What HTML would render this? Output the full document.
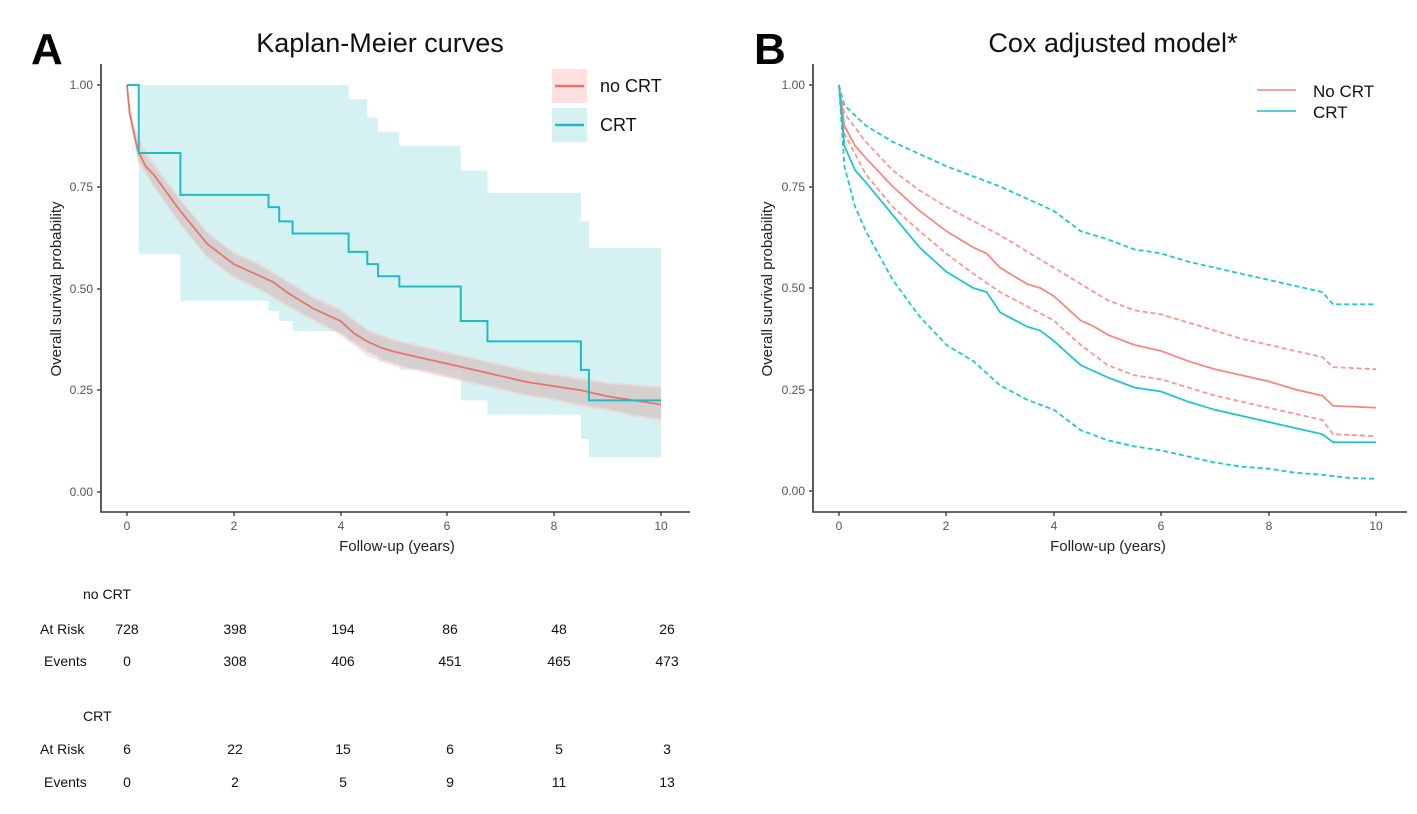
<!DOCTYPE html>
<html><head><meta charset="utf-8"><style>
body{margin:0;background:#fff;}
svg{display:block;font-family:"Liberation Sans",Arial,sans-serif;}
.tk{fill:#555;font-size:12px;}
.ax{stroke:#333;stroke-width:1.6;fill:none;}
.ln{fill:none;vector-effect:non-scaling-stroke;stroke-linejoin:miter;}
</style></head><body>
<svg width="1417" height="814" viewBox="0 0 1417 814">
<!-- Panel A -->
<text x="31" y="64" font-size="44" font-weight="bold" fill="#000">A</text>
<text x="380" y="52" font-size="27" text-anchor="middle" fill="#111" font-family="'Liberation Sans',sans-serif">Kaplan-Meier curves</text>
<g transform="translate(127,492) scale(53.4,-407)">
  <!-- CRT CI band -->
  <polygon fill="#d6f1f2" stroke="none" points="0.22,1 4.15,1 4.15,0.965 4.5,0.965 4.5,0.92 4.7,0.92 4.7,0.885 5.1,0.885 5.1,0.85 6.25,0.85 6.25,0.79 6.75,0.79 6.75,0.735 8.5,0.735 8.5,0.665 8.65,0.665 8.65,0.6 10,0.6 10,0.085 8.65,0.085 8.65,0.13 8.5,0.13 8.5,0.19 6.75,0.19 6.75,0.225 6.25,0.225 6.25,0.3 5.1,0.3 5.1,0.32 4.7,0.32 4.7,0.345 4.5,0.345 4.5,0.37 4.15,0.37 4.15,0.395 3.1,0.395 3.1,0.42 2.85,0.42 2.85,0.445 2.65,0.445 2.65,0.47 1,0.47 1,0.585 0.22,0.585"/>
  <!-- no CRT band -->
  <polygon fill="#f5c9c6" fill-opacity="0.55" stroke="none" points="0,1 0.1,0.92 0.2,0.87 0.5,0.81 1,0.72 1.5,0.64 2,0.59 2.5,0.56 3,0.52 3.5,0.48 4,0.45 4.5,0.40 5,0.375 5.5,0.36 6,0.345 6.5,0.33 7,0.315 7.5,0.30 8,0.29 8.5,0.28 9,0.27 9.5,0.265 10,0.26 10,0.175 9.5,0.185 9,0.20 8.5,0.21 8,0.225 7.5,0.235 7,0.25 6.5,0.265 6,0.28 5.5,0.295 5,0.31 4.5,0.335 4,0.385 3.5,0.42 3,0.455 2.5,0.495 2,0.525 1.5,0.575 1,0.655 0.5,0.75 0.2,0.81 0.1,0.88 0,1"/>
  <polygon fill="#c8c8c8" fill-opacity="0.6" stroke="none" points="0.2,0.85 0.5,0.80 1,0.715 1.5,0.635 2,0.585 2.5,0.555 3,0.515 3.5,0.475 4,0.445 4.5,0.395 5,0.37 5.5,0.355 6,0.34 6.5,0.325 7,0.31 7.5,0.295 8,0.285 8.5,0.275 9,0.265 9.5,0.26 10,0.255 10,0.18 9.5,0.19 9,0.205 8.5,0.215 8,0.23 7.5,0.24 7,0.255 6.5,0.27 6,0.285 5.5,0.3 5,0.315 4.5,0.345 4,0.39 3.5,0.425 3,0.46 2.5,0.50 2,0.53 1.5,0.58 1,0.66 0.5,0.755 0.2,0.82"/>
  <polyline class="ln" stroke="#e8746c" stroke-width="1.8" points="0,1 0.05,0.93 0.1,0.9 0.2,0.84 0.35,0.80 0.5,0.78 0.75,0.735 1,0.69 1.25,0.65 1.5,0.61 1.75,0.585 2,0.56 2.25,0.545 2.5,0.53 2.75,0.515 3,0.49 3.25,0.47 3.5,0.45 3.75,0.435 4,0.42 4.25,0.39 4.5,0.37 4.75,0.355 5,0.345 5.5,0.33 6,0.315 6.5,0.30 7,0.285 7.5,0.27 8,0.26 8.5,0.25 9,0.235 9.5,0.225 10,0.215"/>
  <polyline class="ln" stroke="#1fbcc4" stroke-width="2" points="0,1 0.22,1 0.22,0.833 1,0.833 1,0.73 2.65,0.73 2.65,0.70 2.85,0.70 2.85,0.665 3.1,0.665 3.1,0.635 4.15,0.635 4.15,0.59 4.5,0.59 4.5,0.56 4.7,0.56 4.7,0.53 5.1,0.53 5.1,0.505 6.25,0.505 6.25,0.42 6.75,0.42 6.75,0.37 8.5,0.37 8.5,0.30 8.65,0.30 8.65,0.225 10,0.225"/>
</g>
<path class="ax" d="M101,64 V512 H690"/>
<g stroke="#333" stroke-width="1.3">
<line x1="97" y1="85" x2="101" y2="85"/><line x1="97" y1="187" x2="101" y2="187"/><line x1="97" y1="289" x2="101" y2="289"/><line x1="97" y1="390" x2="101" y2="390"/><line x1="97" y1="492" x2="101" y2="492"/>
<line x1="127" y1="512" x2="127" y2="516"/><line x1="234" y1="512" x2="234" y2="516"/><line x1="341" y1="512" x2="341" y2="516"/><line x1="447" y1="512" x2="447" y2="516"/><line x1="554" y1="512" x2="554" y2="516"/><line x1="661" y1="512" x2="661" y2="516"/>
</g>
<g class="tk" text-anchor="end"><text x="93" y="89">1.00</text><text x="93" y="191">0.75</text><text x="93" y="293">0.50</text><text x="93" y="394">0.25</text><text x="93" y="496">0.00</text></g>
<g class="tk" text-anchor="middle"><text x="127" y="530">0</text><text x="234" y="530">2</text><text x="341" y="530">4</text><text x="447" y="530">6</text><text x="554" y="530">8</text><text x="661" y="530">10</text></g>
<text x="397" y="551" font-size="15" text-anchor="middle" fill="#222">Follow-up (years)</text>
<text transform="translate(61,289) rotate(-90)" font-size="15" text-anchor="middle" fill="#222">Overall survival probability</text>
<rect x="552" y="69" width="35" height="34" fill="#fde0df"/>
<rect x="552" y="108" width="35" height="34" fill="#d6f1f2"/>
<line x1="555" y1="86" x2="584" y2="86" stroke="#f07068" stroke-width="2.5"/>
<line x1="555" y1="125" x2="584" y2="125" stroke="#1fbcc4" stroke-width="2.5"/>
<text x="600" y="92" font-size="18" fill="#111">no CRT</text>
<text x="600" y="131" font-size="18" fill="#111">CRT</text>
<!-- table -->
<g font-size="14" fill="#111">
<text x="83" y="599">no CRT</text>
<text x="40" y="634">At Risk</text><text x="44" y="666">Events</text>
<text x="83" y="721">CRT</text>
<text x="40" y="754">At Risk</text><text x="44" y="787">Events</text>
</g>
<g font-size="14" fill="#111" text-anchor="middle">
<text x="127" y="634">728</text><text x="235" y="634">398</text><text x="343" y="634">194</text><text x="450" y="634">86</text><text x="559" y="634">48</text><text x="667" y="634">26</text>
<text x="127" y="666">0</text><text x="235" y="666">308</text><text x="343" y="666">406</text><text x="450" y="666">451</text><text x="559" y="666">465</text><text x="667" y="666">473</text>
<text x="127" y="754">6</text><text x="235" y="754">22</text><text x="343" y="754">15</text><text x="450" y="754">6</text><text x="559" y="754">5</text><text x="667" y="754">3</text>
<text x="127" y="787">0</text><text x="235" y="787">2</text><text x="343" y="787">5</text><text x="450" y="787">9</text><text x="559" y="787">11</text><text x="667" y="787">13</text>
</g>

<!-- Panel B -->
<text x="754" y="64" font-size="44" font-weight="bold" fill="#000">B</text>
<text x="1113" y="52" font-size="27" text-anchor="middle" fill="#111">Cox adjusted model*</text>
<g transform="translate(839,491) scale(53.7,-406)" stroke-width="1.8">
  <polyline class="ln" stroke="#1fc8d0" stroke-dasharray="5,3" points="0,1 0.1,0.95 0.5,0.9 1,0.86 1.5,0.83 2,0.80 2.5,0.775 3,0.75 3.5,0.72 4,0.69 4.5,0.64 5,0.62 5.5,0.595 6,0.585 6.5,0.565 7,0.55 7.5,0.535 8,0.52 8.5,0.505 9,0.49 9.2,0.46 10,0.46"/>
  <polyline class="ln" stroke="#1fc8d0" stroke-dasharray="5,3" points="0,1 0.1,0.8 0.3,0.7 0.5,0.64 0.75,0.58 1,0.52 1.5,0.43 2,0.36 2.5,0.32 3,0.26 3.5,0.225 4,0.2 4.5,0.15 5,0.125 5.5,0.11 6,0.1 6.5,0.085 7,0.07 7.5,0.06 8,0.055 8.5,0.045 9,0.04 9.5,0.032 10,0.03"/>
  <polyline class="ln" stroke="#f8978f" stroke-dasharray="5,3" points="0,1 0.1,0.93 0.5,0.86 1,0.79 1.5,0.74 2,0.70 2.5,0.665 3,0.63 3.5,0.59 4,0.55 4.5,0.51 5,0.47 5.5,0.445 6,0.435 6.5,0.415 7,0.395 7.5,0.375 8,0.36 8.5,0.345 9,0.33 9.2,0.305 10,0.30"/>
  <polyline class="ln" stroke="#f8978f" stroke-dasharray="5,3" points="0,1 0.1,0.88 0.5,0.78 1,0.70 1.5,0.64 2,0.585 2.5,0.535 3,0.49 3.5,0.455 4,0.42 4.5,0.36 5,0.31 5.5,0.285 6,0.275 6.5,0.255 7,0.235 7.5,0.22 8,0.205 8.5,0.19 9,0.175 9.2,0.14 10,0.135"/>
  <polyline class="ln" stroke="#f8877f" points="0,1 0.1,0.9 0.3,0.85 0.5,0.82 0.75,0.785 1,0.75 1.5,0.69 2,0.64 2.5,0.6 2.75,0.585 3,0.55 3.5,0.51 3.75,0.5 4,0.48 4.5,0.42 4.75,0.405 5,0.385 5.5,0.36 6,0.345 6.5,0.32 7,0.30 7.5,0.285 8,0.27 8.5,0.25 9,0.235 9.2,0.21 10,0.205"/>
  <polyline class="ln" stroke="#1fc4cc" points="0,1 0.1,0.85 0.3,0.79 0.5,0.76 0.75,0.72 1,0.68 1.5,0.6 2,0.54 2.5,0.5 2.75,0.49 3,0.44 3.5,0.405 3.75,0.395 4,0.37 4.5,0.31 4.75,0.295 5,0.28 5.5,0.255 6,0.245 6.5,0.22 7,0.2 7.5,0.185 8,0.17 8.5,0.155 9,0.14 9.2,0.12 10,0.12"/>
</g>
<path class="ax" d="M813,64 V512 H1407"/>
<g stroke="#333" stroke-width="1.3">
<line x1="809" y1="85" x2="813" y2="85"/><line x1="809" y1="187" x2="813" y2="187"/><line x1="809" y1="288" x2="813" y2="288"/><line x1="809" y1="390" x2="813" y2="390"/><line x1="809" y1="491" x2="813" y2="491"/>
<line x1="839" y1="512" x2="839" y2="516"/><line x1="946" y1="512" x2="946" y2="516"/><line x1="1054" y1="512" x2="1054" y2="516"/><line x1="1161" y1="512" x2="1161" y2="516"/><line x1="1269" y1="512" x2="1269" y2="516"/><line x1="1376" y1="512" x2="1376" y2="516"/>
</g>
<g class="tk" text-anchor="end"><text x="805" y="89">1.00</text><text x="805" y="191">0.75</text><text x="805" y="292">0.50</text><text x="805" y="394">0.25</text><text x="805" y="495">0.00</text></g>
<g class="tk" text-anchor="middle"><text x="839" y="530">0</text><text x="946" y="530">2</text><text x="1054" y="530">4</text><text x="1161" y="530">6</text><text x="1269" y="530">8</text><text x="1376" y="530">10</text></g>
<text x="1108" y="551" font-size="15" text-anchor="middle" fill="#222">Follow-up (years)</text>
<text transform="translate(772,289) rotate(-90)" font-size="15" text-anchor="middle" fill="#222">Overall survival probability</text>
<line x1="1257" y1="90" x2="1296" y2="90" stroke="#f8a59e" stroke-width="2"/>
<line x1="1257" y1="111" x2="1296" y2="111" stroke="#4fd0d6" stroke-width="2"/>
<text x="1313" y="97" font-size="17" fill="#111">No CRT</text>
<text x="1313" y="118" font-size="17" fill="#111">CRT</text>
</svg>
</body></html>
